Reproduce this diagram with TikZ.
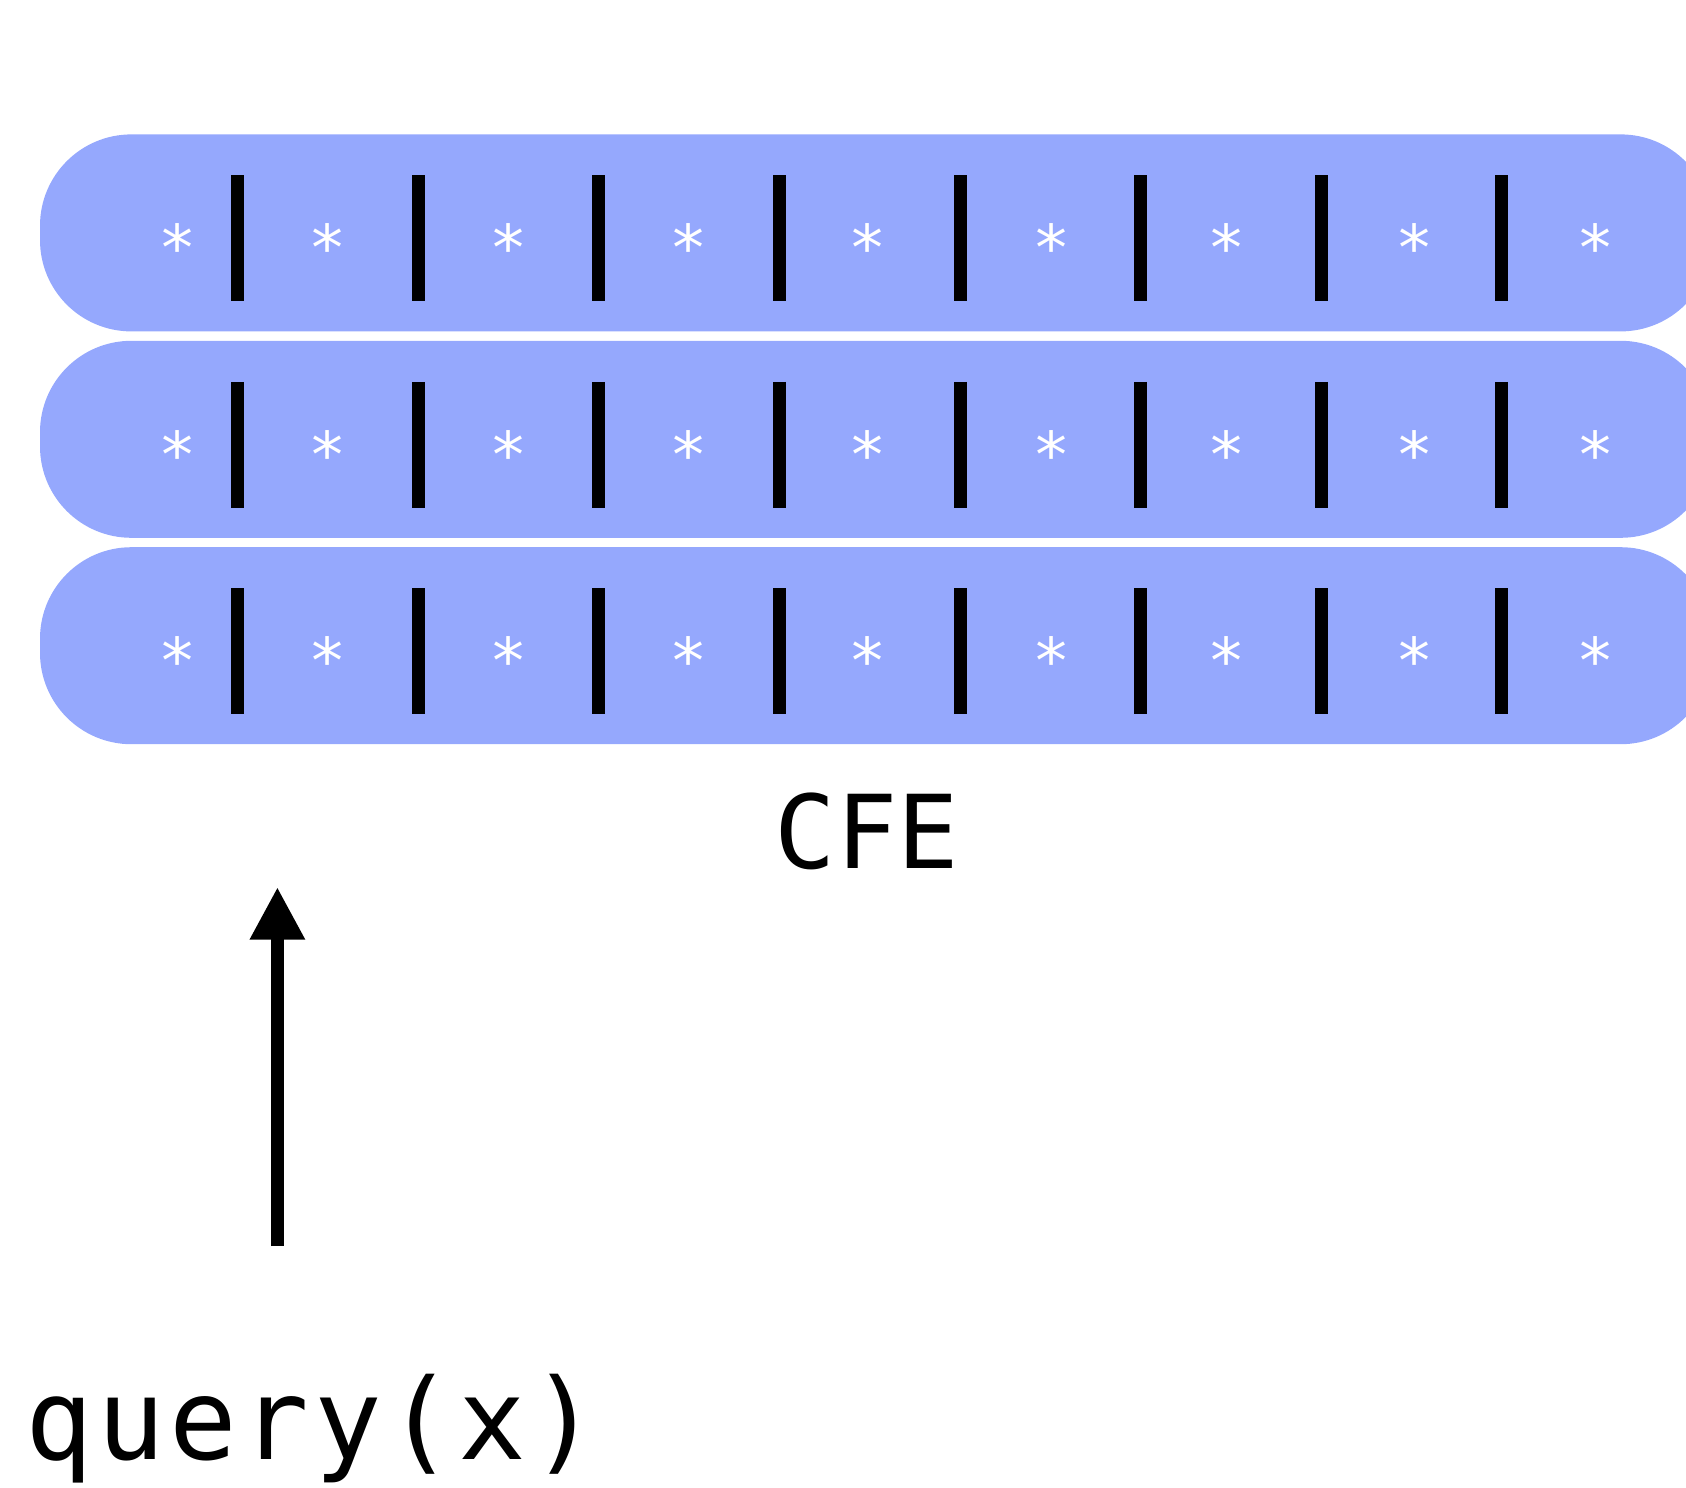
\documentclass[tikz,border=0pt]{standalone}
\usepackage{fontspec}
\setmonofont{DejaVu Sans Mono}
\usetikzlibrary{arrows.meta}

\definecolor{cfeblue}{RGB}{149,168,253}

\tikzset{
    slab/.style={fill=cfeblue, rounded corners=52pt},
    divider/.style={line width=7.4pt},
    cell/.style={text=white, inner sep=0pt, font=\ttfamily\fontsize{36}{36}\selectfont},
    caption/.style={inner sep=0pt, font=\ttfamily\fontsize{58}{60}\selectfont},
}

\begin{document}
\begin{tikzpicture}[x=0.02cm, y=-0.02cm]
    \useasboundingbox (0,0) rectangle (1686,1487);
    \clip (0,0) rectangle (1686,1487);

    % three stacked rows, eight dividers each
    \foreach \r in {0,1,2} {
        \pgfmathsetmacro{\t}{134.4+206.4*\r}
        \fill[slab] (40,\t) rectangle (1712,\t+197);
        \foreach \k in {0,...,7} {
            \draw[divider] (237.6+180.6*\k,\t+41) -- (237.6+180.6*\k,\t+167);
        }
        \node[cell] (s\r-0) at (177.5,\t+113) {*};
        \foreach \x [count=\k] in {328,509,689,868,1052,1227,1415,1596} {
            \node[cell] (s\r-\k) at (\x,\t+113) {*};
        }
    }

    \node[caption] (cfe) at (867,831) {CFE};
    \node[caption, anchor=base west,
          font=\ttfamily\fontsize{64}{66}\selectfont\addfontfeatures{LetterSpace=4}]
        (query) at (25,1459) {query(x)};

    \coordinate (in) at (277.4,1246);
    \coordinate (tip) at (277.4,887);
    \draw[line width=7.4pt, -{Triangle[width=29.5pt,length=30pt]}] (in) -- (tip);
\end{tikzpicture}
\end{document}
